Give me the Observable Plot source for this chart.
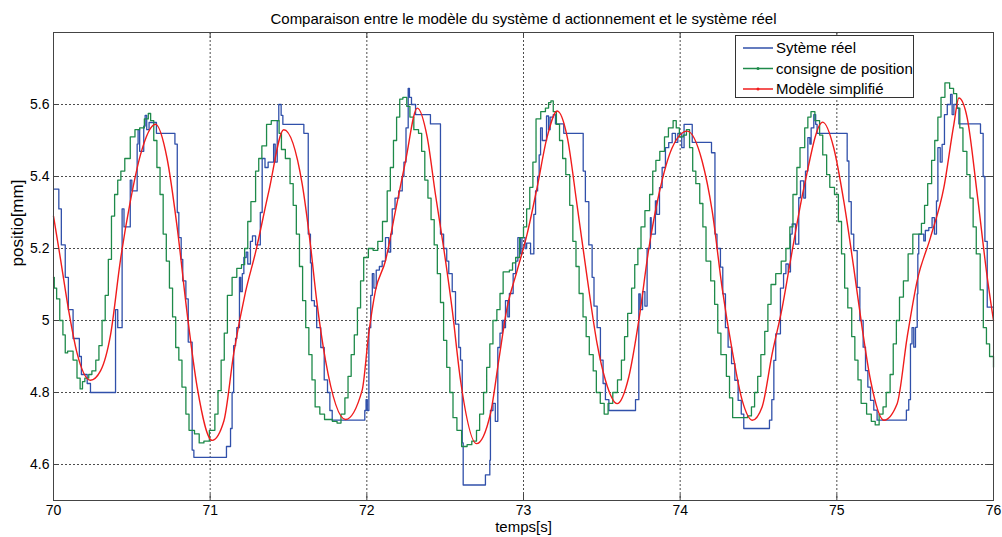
<!DOCTYPE html>
<html><head><meta charset="utf-8">
<script src="https://cdn.jsdelivr.net/npm/d3@7"></script>
<script src="https://cdn.jsdelivr.net/npm/@observablehq/plot@0.6"></script>
<style>
body{margin:0;background:#fff;font-family:"Liberation Sans",Arial,sans-serif;}
#wrap{position:relative;width:1002px;height:537px;overflow:hidden;}
#legend{position:absolute;left:735px;top:35px;}
</style></head>
<body><div id="wrap"></div>
<script>
const title = "Comparaison entre le modèle du système d actionnement et le système réel";
const xLabel = "temps[s]";
const yLabel = "positio[mm]";
const seriesNames = ["Sytème réel", "consigne de position", "Modèle simplifié"];
const seriesColors = ["#3050aa", "#1e8a4a", "#f01c1c"];
const xTicks = [70, 71, 72, 73, 74, 75, 76];
const yTicks = [4.6, 4.8, 5, 5.2, 5.4, 5.6];

// Système réel (blue, stepped)
const reelT = [70.000,70.034,70.05,70.075,70.095,70.125,70.165,70.178,70.215,70.236,70.396,70.41,70.438,70.45,70.49,70.50,70.534,70.54,70.55,70.576,70.585,70.595,70.61,70.657,70.775,70.79,70.80,70.815,70.825,70.845,70.86,70.885,70.896,71.104,71.13,71.14,71.15,71.162,71.17,71.187,71.195,71.205,71.215,71.23,71.24,71.257,71.27,71.29,71.32,71.332,71.35,71.37,71.405,71.415,71.428,71.438,71.453,71.464,71.598,71.626,71.64,71.647,71.665,71.68,71.706,71.728,71.749,71.764,71.779,71.987,71.995,72.003,72.013,72.025,72.035,72.045,72.06,72.08,72.098,72.119,72.14,72.152,72.162,72.18,72.204,72.226,72.237,72.25,72.264,72.272,72.285,72.311,72.406,72.47,72.49,72.51,72.523,72.545,72.566,72.587,72.598,72.609,72.615,72.757,72.785,72.789,72.805,72.82,72.836,72.85,72.865,72.875,72.885,72.9,72.91,72.934,72.95,72.964,72.98,72.99,73.01,73.02,73.045,73.066,73.077,73.09,73.10,73.109,73.12,73.147,73.16,73.17,73.19,73.204,73.257,73.381,73.395,73.417,73.438,73.45,73.47,73.491,73.508,73.523,73.545,73.715,73.736,73.745,73.76,73.775,73.789,73.81,73.815,73.842,73.85,73.868,73.885,73.906,73.927,73.949,73.97,73.985,74.01,74.025,74.077,74.20,74.222,74.235,74.257,74.272,74.289,74.306,74.328,74.349,74.37,74.39,74.406,74.57,74.585,74.598,74.61,74.64,74.66,74.675,74.69,74.704,74.715,74.736,74.757,74.768,74.789,74.80,74.815,74.828,74.836,74.853,74.865,74.874,75.066,75.077,75.092,75.108,75.13,75.147,75.168,75.183,75.198,75.215,75.236,75.257,75.444,75.459,75.47,75.48,75.491,75.502,75.513,75.517,75.523,75.555,75.565,75.587,75.608,75.623,75.636,75.645,75.66,75.672,75.687,75.705,75.726,75.736,75.747,75.768,75.779,75.917,75.934,75.945,75.96,76.0];
const reelV = [5.365,5.31,5.21,5.12,5.03,4.95,4.90,4.85,4.825,4.80,5.03,4.98,5.31,5.26,5.39,5.36,5.49,5.53,5.47,5.54,5.57,5.53,5.55,5.52,5.49,5.30,5.23,5.17,5.11,5.06,4.94,4.64,4.62,4.65,4.70,4.80,4.93,4.95,4.98,5.12,5.08,5.13,5.175,5.19,5.157,5.22,5.235,5.21,5.30,5.45,5.425,5.44,5.49,5.44,5.555,5.60,5.57,5.545,5.52,5.24,5.16,5.055,5.04,4.98,4.925,4.835,4.80,4.75,4.723,4.75,4.78,4.75,4.98,5.07,5.13,5.09,5.14,5.15,5.165,5.23,5.19,5.24,5.31,5.34,5.36,5.40,5.44,5.535,5.645,5.62,5.60,5.572,5.546,5.24,5.20,5.165,5.13,5.08,4.99,4.925,4.89,4.66,4.543,4.571,4.612,4.75,4.77,4.72,4.925,4.965,5.00,4.98,5.055,5.01,5.075,5.13,5.165,5.23,5.185,5.23,5.20,5.215,5.185,5.295,5.36,5.40,5.46,5.535,5.50,5.568,5.53,5.565,5.572,5.546,5.52,5.415,5.33,5.21,5.12,5.04,4.98,4.89,4.825,4.78,4.75,4.78,5.074,5.03,5.08,5.04,5.20,5.286,5.24,5.332,5.295,5.369,5.425,5.48,5.494,5.52,5.495,5.52,5.48,5.545,5.495,5.466,5.24,5.20,5.148,5.074,4.98,4.926,4.88,4.834,4.778,4.74,4.70,4.723,4.78,4.889,4.963,5.09,5.13,5.157,5.135,5.24,5.268,5.212,5.341,5.388,5.34,5.415,5.508,5.49,5.535,5.572,5.545,5.52,5.443,5.33,5.24,5.194,5.092,5.0,4.926,4.861,4.815,4.778,4.751,4.723,4.751,4.78,4.935,4.98,4.926,4.981,5.074,5.185,5.24,5.221,5.25,5.258,5.286,5.24,5.332,5.48,5.44,5.489,5.572,5.60,5.628,5.572,5.60,5.59,5.546,5.52,5.40,5.22,5.037,5.037];

// Consigne de position (green, stepped)
const consT = [70.000,70.005,70.02,70.04,70.06,70.075,70.09,70.125,70.15,70.17,70.185,70.20,70.225,70.245,70.27,70.29,70.31,70.33,70.35,70.37,70.39,70.41,70.43,70.455,70.49,70.52,70.55,70.58,70.605,70.62,70.64,70.66,70.68,70.70,70.72,70.74,70.76,70.78,70.80,70.82,70.845,70.865,70.90,70.93,70.96,70.995,71.03,71.05,71.07,71.09,71.11,71.14,71.17,71.20,71.22,71.24,71.26,71.29,71.31,71.33,71.36,71.39,71.42,71.44,71.455,71.48,71.51,71.53,71.55,71.57,71.59,71.61,71.63,71.65,71.67,71.70,71.73,71.78,71.81,71.835,71.86,71.88,71.90,71.92,71.94,71.96,71.98,72.01,72.04,72.07,72.10,72.13,72.15,72.17,72.19,72.21,72.23,72.255,72.275,72.30,72.33,72.35,72.37,72.39,72.41,72.43,72.45,72.47,72.49,72.51,72.53,72.55,72.575,72.605,72.64,72.67,72.70,72.72,72.745,72.765,72.785,72.805,72.83,72.85,72.87,72.91,72.93,72.95,72.975,73.00,73.02,73.04,73.06,73.08,73.11,73.14,73.16,73.175,73.19,73.21,73.23,73.25,73.27,73.295,73.315,73.335,73.355,73.38,73.40,73.42,73.445,73.465,73.49,73.515,73.54,73.57,73.60,73.625,73.645,73.665,73.69,73.71,73.73,73.75,73.775,73.805,73.825,73.845,73.87,73.90,73.925,73.955,73.975,73.995,74.02,74.04,74.06,74.08,74.10,74.125,74.145,74.165,74.195,74.22,74.24,74.26,74.295,74.315,74.335,74.43,74.455,74.475,74.495,74.515,74.54,74.56,74.58,74.61,74.645,74.675,74.70,74.72,74.745,74.765,74.795,74.815,74.835,74.86,74.89,74.91,74.935,74.955,74.985,75.01,75.03,75.05,75.07,75.095,75.115,75.135,75.155,75.19,75.22,75.245,75.27,75.295,75.315,75.34,75.36,75.38,75.40,75.425,75.455,75.485,75.52,75.54,75.56,75.58,75.605,75.625,75.645,75.665,75.69,75.72,75.745,75.765,75.785,75.805,75.83,75.85,75.87,75.89,75.915,75.935,75.955,75.975,76.0];
const consV = [5.12,5.09,5.06,5.00,4.96,4.91,4.915,4.89,4.84,4.81,4.83,4.84,4.85,4.86,4.89,4.93,5.00,5.07,5.17,5.29,5.35,5.39,5.415,5.45,5.51,5.53,5.535,5.56,5.575,5.555,5.50,5.425,5.35,5.24,5.165,5.09,5.01,4.925,4.89,4.815,4.74,4.695,4.685,4.66,4.665,4.695,4.74,4.805,4.89,4.965,5.07,5.12,5.145,5.155,5.20,5.275,5.33,5.415,5.45,5.485,5.545,5.555,5.555,5.52,5.475,5.45,5.38,5.32,5.24,5.15,5.055,4.98,4.905,4.835,4.76,4.74,4.725,4.72,4.715,4.74,4.785,4.845,4.905,4.96,5.035,5.11,5.175,5.20,5.195,5.22,5.275,5.36,5.425,5.50,5.565,5.615,5.62,5.595,5.565,5.53,5.52,5.47,5.39,5.34,5.28,5.21,5.13,5.05,4.945,4.87,4.80,4.73,4.695,4.65,4.655,4.665,4.695,4.74,4.80,4.87,4.935,5.00,5.03,5.075,5.135,5.14,5.16,5.175,5.23,5.26,5.31,5.37,5.44,5.56,5.58,5.59,5.605,5.61,5.58,5.545,5.50,5.45,5.405,5.32,5.22,5.15,5.075,5.01,4.955,4.905,4.86,4.80,4.77,4.74,4.77,4.80,4.835,4.89,4.955,5.02,5.09,5.155,5.20,5.26,5.305,5.35,5.415,5.445,5.47,5.51,5.535,5.555,5.535,5.51,5.515,5.53,5.48,5.415,5.38,5.325,5.26,5.165,5.11,5.045,4.965,4.905,4.845,4.785,4.73,4.735,4.76,4.80,4.845,4.905,4.97,5.045,5.10,5.13,5.165,5.20,5.26,5.35,5.425,5.48,5.535,5.565,5.58,5.555,5.515,5.46,5.405,5.37,5.35,5.275,5.185,5.09,5.035,4.955,4.89,4.835,4.77,4.74,4.72,4.71,4.74,4.76,4.80,4.85,4.935,5.00,5.065,5.11,5.185,5.24,5.24,5.27,5.32,5.38,5.445,5.50,5.565,5.62,5.66,5.645,5.63,5.59,5.535,5.47,5.405,5.34,5.26,5.185,5.085,4.98,4.935,4.90,4.87];

// Modèle simplifié (red, smooth)
const modT = [70.00,70.045,70.10,70.15,70.236,70.30,70.364,70.428,70.49,70.555,70.651,70.725,70.789,70.853,70.917,71.013,71.087,71.151,71.226,71.29,71.375,71.47,71.587,71.64,71.68,71.736,71.864,71.97,72.012,72.055,72.119,72.183,72.247,72.322,72.385,72.438,72.491,72.545,72.598,72.70,72.789,72.842,72.895,72.959,73.023,73.087,73.151,73.215,73.279,73.342,73.406,73.47,73.523,73.598,73.672,73.736,73.80,73.864,73.949,74.045,74.14,74.204,74.268,74.332,74.396,74.46,74.523,74.587,74.651,74.704,74.79,74.91,74.98,75.045,75.108,75.161,75.215,75.30,75.385,75.449,75.513,75.598,75.683,75.747,75.779,75.832,75.896,75.96,76.0];
const modV = [5.29,5.17,5.02,4.91,4.834,4.86,4.96,5.17,5.33,5.46,5.545,5.45,5.26,5.02,4.815,4.667,4.72,4.91,5.08,5.19,5.36,5.53,5.38,5.21,5.055,4.89,4.725,4.806,4.963,5.083,5.166,5.305,5.443,5.59,5.51,5.35,5.20,5.03,4.834,4.658,4.741,4.889,5.035,5.138,5.24,5.37,5.51,5.582,5.51,5.32,5.12,4.935,4.834,4.769,4.843,5.0,5.20,5.35,5.48,5.526,5.443,5.305,5.09,4.917,4.778,4.723,4.76,4.907,5.035,5.166,5.369,5.551,5.48,5.33,5.146,4.981,4.834,4.723,4.769,4.954,5.111,5.231,5.369,5.545,5.618,5.563,5.351,5.12,5.0];

const rows = (T, V) => T.map((t, i) => ({t, v: V[i]}));
const font = "'Liberation Sans', Arial, sans-serif";
const grid = {stroke: "#000", strokeOpacity: 0.7, strokeDasharray: "2,2", strokeWidth: 1};
const tk = {stroke: "#444", strokeWidth: 1};

const chart = Plot.plot({
  width: 1002, height: 537,
  marginLeft: 53, marginRight: 9, marginTop: 32, marginBottom: 37,
  x: {domain: [70, 76]},
  y: {domain: [4.5, 5.8]},
  style: {fontFamily: font, fontSize: "14px", background: "#fff", color: "#000", overflow: "visible"},
  marks: [
    Plot.ruleX(xTicks.slice(1, -1), grid),
    Plot.ruleY(yTicks, grid),
    Plot.line(rows(reelT, reelV), {x: "t", y: "v", stroke: seriesColors[0], strokeWidth: 1.3, curve: "step-after"}),
    Plot.line(rows(consT, consV), {x: "t", y: "v", stroke: seriesColors[1], strokeWidth: 1.3, curve: "step-after"}),
    Plot.line(rows(modT, modV), {x: "t", y: "v", stroke: seriesColors[2], strokeWidth: 1.4, curve: "monotone-x"}),
    Plot.ruleX(xTicks, {y1: 4.5, y2: 4.5 + 1.3 * 6 / 468, ...tk}),
    Plot.ruleX(xTicks, {y1: 5.8, y2: 5.8 - 1.3 * 6 / 468, ...tk}),
    Plot.ruleY(yTicks, {x1: 70, x2: 70 + 6 * 6 / 940, ...tk}),
    Plot.ruleY(yTicks, {x1: 76, x2: 76 - 6 * 6 / 940, ...tk}),
    Plot.frame({stroke: "#444", strokeWidth: 1}),
    Plot.axisX(xTicks, {tickSize: 0, tickPadding: 5, label: null, tickFormat: d => String(d), fontSize: 14}),
    Plot.axisY(yTicks, {tickSize: 0, tickPadding: 4, label: null, tickFormat: d => String(d), fontSize: 14}),
    Plot.text([title], {text: d => d, frameAnchor: "top", dy: -19, fontSize: 15}),
    Plot.text([xLabel], {text: d => d, frameAnchor: "bottom", dy: 21, fontSize: 15, lineAnchor: "top"}),
    Plot.text([yLabel], {text: d => d, frameAnchor: "left", dx: -36, rotate: -90, fontSize: 17})
  ]
});
const wrap = document.getElementById("wrap");
wrap.appendChild(chart);

// Legend (HTML/SVG overlay)
const ns = "http://www.w3.org/2000/svg";
const lg = document.createElementNS(ns, "svg");
lg.setAttribute("id", "legend");
lg.setAttribute("width", 180);
lg.setAttribute("height", 64);
lg.style.fontFamily = font;
const rect = document.createElementNS(ns, "rect");
Object.entries({x: 0.5, y: 0.5, width: 178, height: 62, fill: "#fff", stroke: "#333"}).forEach(([k, v]) => rect.setAttribute(k, v));
lg.appendChild(rect);
seriesNames.forEach((name, i) => {
  const y = 13 + i * 20.5;
  const l = document.createElementNS(ns, "line");
  Object.entries({x1: 8, x2: 38, y1: y, y2: y, stroke: seriesColors[i], "stroke-width": 1.5}).forEach(([k, v]) => l.setAttribute(k, v));
  lg.appendChild(l);
  if (i > 0) {
    const c = document.createElementNS(ns, "circle");
    Object.entries({cx: 23, cy: y, r: 1.5, fill: seriesColors[i]}).forEach(([k, v]) => c.setAttribute(k, v));
    lg.appendChild(c);
  }
  const t = document.createElementNS(ns, "text");
  Object.entries({x: 41, y: y + 5, "font-size": 15, fill: "#000"}).forEach(([k, v]) => t.setAttribute(k, v));
  t.textContent = name;
  lg.appendChild(t);
});
wrap.appendChild(lg);
</script>
</body></html>
